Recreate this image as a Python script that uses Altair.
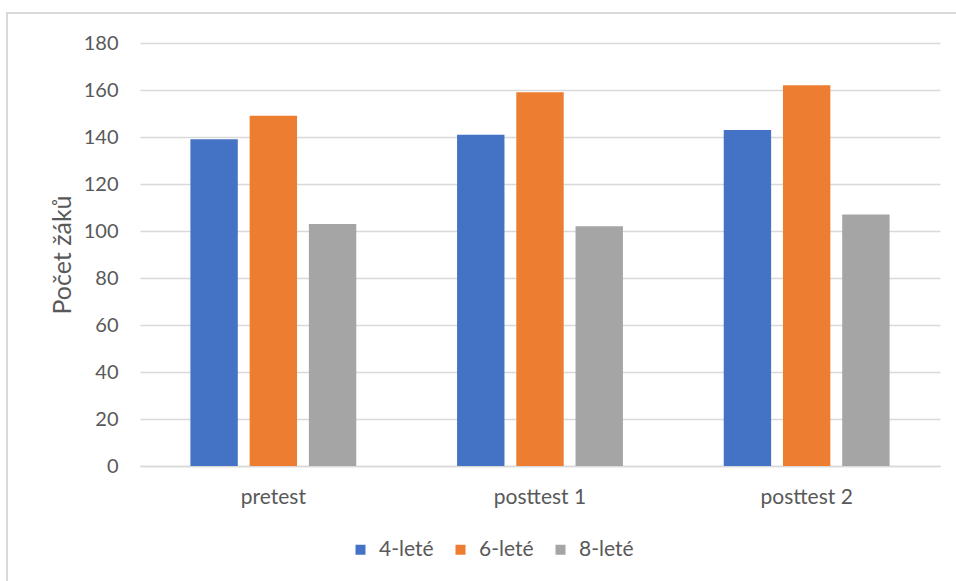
import altair as alt
import pandas as pd

# Number of pupils per test round, split by type of grammar school
tests = ["pretest", "posttest 1", "posttest 2"]
groups = ["4-leté", "6-leté", "8-leté"]
counts_4 = [139, 141, 143]
counts_6 = [149, 159, 162]
counts_8 = [103, 102, 107]
colors = ["#4472C4", "#ED7D31", "#A5A5A5"]
y_ticks = [0, 20, 40, 60, 80, 100, 120, 140, 160, 180]

rows = []
for g, vals in zip(groups, [counts_4, counts_6, counts_8]):
    for t, v in zip(tests, vals):
        rows.append({"test": t, "skupina": g, "pocet": v})
df = pd.DataFrame(rows)

FONT = "Lato"
TEXT = "#595959"
LINE = "#d9d9d9"

bars = alt.Chart(df).mark_bar().encode(
    x=alt.X(
        "test:N",
        sort=tests,
        title=None,
        scale=alt.Scale(paddingInner=0.378, paddingOuter=0.189),
        axis=alt.Axis(
            labelAngle=0,
            ticks=False,
            grid=False,
            domainColor=LINE,
            domainWidth=1.5,
            labelPadding=20,
            labelFontSize=21,
            labelColor=TEXT,
            labelFont=FONT,
        ),
    ),
    xOffset=alt.XOffset(
        "skupina:N", sort=groups, scale=alt.Scale(paddingInner=0.2, paddingOuter=0)
    ),
    y=alt.Y(
        "pocet:Q",
        title="Počet žáků",
        scale=alt.Scale(domain=[0, 180], nice=False),
        axis=alt.Axis(
            values=y_ticks,
            ticks=False,
            domain=False,
            gridColor=LINE,
            gridWidth=1.5,
            labelPadding=22,
            labelFontSize=20,
            labelColor=TEXT,
            labelFont=FONT,
            titleFont=FONT,
            titleFontSize=25,
            titleFontWeight="normal",
            titleColor=TEXT,
            titlePadding=8,
        ),
    ),
    color=alt.Color(
        "skupina:N",
        sort=groups,
        scale=alt.Scale(domain=groups, range=colors),
        legend=alt.Legend(
            title=None,
            orient="none",
            direction="horizontal",
            legendX=210,
            legendY=496,
            symbolType="square",
            symbolSize=100,
            symbolStrokeWidth=0,
            labelFont=FONT,
            labelFontSize=21,
            labelColor=TEXT,
            labelOffset=8,
            columnPadding=16,
        ),
    ),
)

# Light frame along the top and left edge of the chart
one = pd.DataFrame({"k": [0]})
frame_top = alt.Chart(one).mark_rule(color=LINE, strokeWidth=2).encode(
    x=alt.value(-134), x2=alt.value(816), y=alt.value(-30)
)
frame_left = alt.Chart(one).mark_rule(color=LINE, strokeWidth=2).encode(
    x=alt.value(-133), y=alt.value(-31), y2=alt.value(538)
)

chart = (
    alt.layer(frame_top, frame_left, bars)
    .properties(
        width=800,
        height=423,
        autosize=alt.AutoSizeParams(type="none"),
        padding={"left": 140, "top": 43, "right": 16, "bottom": 115},
        background="white",
    )
    .configure_view(stroke=None)
)

chart.save("out.html", embed_options={"renderer": "svg", "actions": False})
